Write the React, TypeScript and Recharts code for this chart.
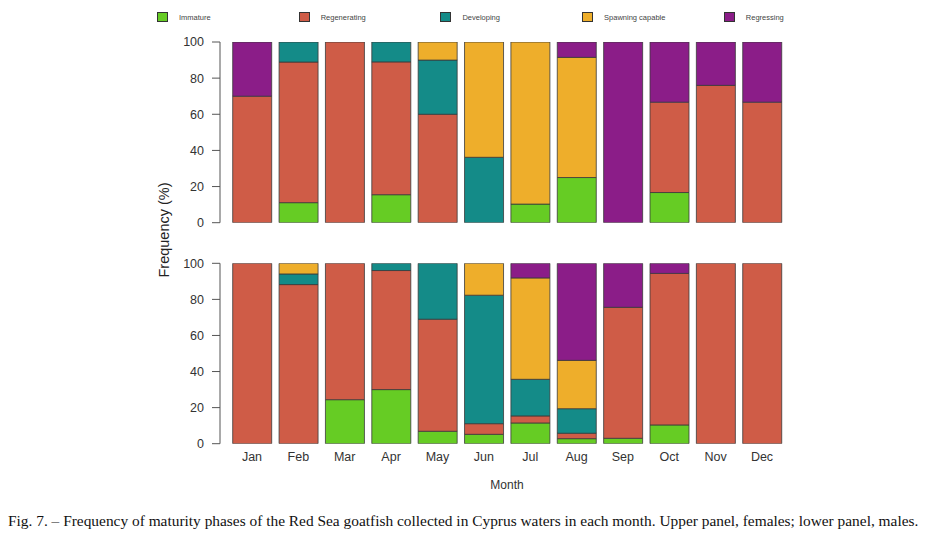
import React from "react";
import { BarChart, Bar, XAxis, YAxis } from "recharts";

const months = ["Jan", "Feb", "Mar", "Apr", "May", "Jun", "Jul", "Aug", "Sep", "Oct", "Nov", "Dec"];
const phases = ["Immature", "Regenerating", "Developing", "Spawning capable", "Regressing"];
const yTicks = [0, 20, 40, 60, 80, 100];

// Females (upper panel)
const femImmature = [0, 11.1, 0, 15.5, 0, 0, 10.3, 25, 0, 16.7, 0, 0];
const femRegenerating = [70, 77.8, 100, 73.5, 60, 0, 0, 0, 0, 50, 76, 66.7];
const femDeveloping = [0, 11.1, 0, 11, 30, 36.2, 0, 0, 0, 0, 0, 0];
const femSpawning = [0, 0, 0, 0, 10, 63.8, 89.7, 66.5, 0, 0, 0, 0];
const femRegressing = [30, 0, 0, 0, 0, 0, 0, 8.5, 100, 33.3, 24, 33.3];

// Males (lower panel)
const maleImmature = [0, 0, 24.4, 30, 6.9, 5.2, 11.5, 2.8, 3, 10.4, 0, 0];
const maleRegenerating = [100, 88.2, 75.6, 66, 62.1, 5.9, 3.9, 3, 72.6, 84, 100, 100];
const maleDeveloping = [0, 5.9, 0, 4, 31, 71.2, 20.3, 13.6, 0, 0, 0, 0];
const maleSpawning = [0, 5.9, 0, 0, 0, 17.7, 56.2, 26.8, 0, 0, 0, 0];
const maleRegressing = [0, 0, 0, 0, 0, 0, 8.1, 53.8, 24.4, 5.6, 0, 0];

const colors = ["#66CC24", "#CF5C47", "#148B88", "#EEAE2B", "#8B1D88"];
const keys = ["imm", "reg", "dev", "spa", "rgs"];

const build = (a: number[], b: number[], c: number[], d: number[], e: number[]) =>
  months.map((m, i) => ({ month: m, imm: a[i], reg: b[i], dev: c[i], spa: d[i], rgs: e[i] }));

const femaleData = build(femImmature, femRegenerating, femDeveloping, femSpawning, femRegressing);
const maleData = build(maleImmature, maleRegenerating, maleDeveloping, maleSpawning, maleRegressing);

const FONT = "'Liberation Sans', Arial, sans-serif";

const LegendBlock = () => (
  <div style={{ position: "absolute", left: 0, top: 0, width: 938, height: 34, fontFamily: FONT }}>
    {phases.map((p, i) => (
      <div
        key={p}
        style={{
          position: "absolute",
          left: 157 + i * 141.7,
          top: 12,
          display: "flex",
          alignItems: "center",
          fontSize: 7.5,
          color: "#444",
          whiteSpace: "nowrap",
        }}
      >
        <span
          style={{
            display: "inline-block",
            width: 9,
            height: 8,
            background: colors[i],
            border: "1px solid #333",
            marginRight: 11,
          }}
        />
        {p}
      </div>
    ))}
  </div>
);

const bars = () =>
  keys.map((k, i) => (
    <Bar
      key={k}
      dataKey={k}
      name={phases[i]}
      stackId="s"
      fill={colors[i]}
      stroke="#3a3a3a"
      strokeWidth={0.8}
      isAnimationActive={false}
    />
  ));

const yAxis = (
  <YAxis
    domain={[0, 100]}
    allowDataOverflow
    ticks={yTicks}
    width={60}
    tickSize={8}
    tickMargin={8}
    axisLine={{ stroke: "#555", strokeWidth: 1 }}
    tickLine={{ stroke: "#555", strokeWidth: 1 }}
    tick={{ fill: "#333", fontSize: 12.5, fontFamily: FONT }}
    interval={0}
  />
);

export default function App() {
  return (
    <div style={{ position: "absolute", left: 0, top: 0, width: 938, height: 543, background: "#fff" }}>
      <LegendBlock />
      <div style={{ position: "absolute", left: 0, top: 0 }}>
        <BarChart
          width={938}
          height={230}
          data={femaleData}
          margin={{ top: 42, right: 144, bottom: 7.3, left: 160 }}
          barCategoryGap={3.9}
        >
          <XAxis dataKey="month" hide padding={{ left: 8.8, right: 8.8 }} />
          {yAxis}
          {bars()}
        </BarChart>
      </div>
      <div style={{ position: "absolute", left: 0, top: 230 }}>
        <BarChart
          width={938}
          height={250}
          data={maleData}
          margin={{ top: 33.3, right: 144, bottom: 0, left: 160 }}
          barCategoryGap={3.9}
        >
          <XAxis
            dataKey="month"
            padding={{ left: 8.8, right: 8.8 }}
            axisLine={false}
            tickLine={false}
            height={36.3}
            tickMargin={2}
            interval={0}
            tick={{ fill: "#333", fontSize: 12.5, fontFamily: FONT }}
          />
          {yAxis}
          {bars()}
        </BarChart>
      </div>
      <svg width={938} height={543} style={{ position: "absolute", left: 0, top: 0, pointerEvents: "none" }}>
        <text
          x={164}
          y={230}
          transform="rotate(-90 164 230)"
          textAnchor="middle"
          dominantBaseline="central"
          fontSize={14.5}
          fontFamily={FONT}
          fill="#222"
        >
          Frequency (%)
        </text>
        <text x={507} y={485} textAnchor="middle" dominantBaseline="central" fontSize={12} fontFamily={FONT} fill="#333">
          Month
        </text>
      </svg>
      <div
        style={{
          position: "absolute",
          left: 8,
          top: 512,
          fontFamily: "'Liberation Serif', 'Times New Roman', serif",
          fontSize: 15.4,
          color: "#111",
          whiteSpace: "nowrap",
        }}
      >
        Fig. 7. – Frequency of maturity phases of the Red Sea goatfish collected in Cyprus waters in each month. Upper panel, females; lower panel, males.
      </div>
    </div>
  );
}
